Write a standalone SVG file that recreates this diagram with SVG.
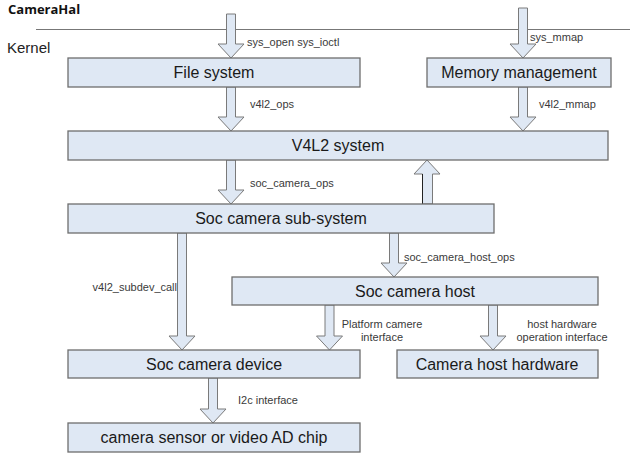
<svg xmlns="http://www.w3.org/2000/svg" width="630" height="460" viewBox="0 0 630 460">
<style>
.box{fill:#dfe8f4;stroke:#6e6e6e;stroke-width:1.3}
.arr{fill:#dfe8f4;stroke:#7a7a7a;stroke-width:1}
.t{font-family:"Liberation Sans",Arial,sans-serif;font-size:16px;fill:#1a1a1a;text-anchor:middle}
.l{font-family:"Liberation Sans",Arial,sans-serif;font-size:11px;fill:#3a3a3a}
.c{text-anchor:middle}
</style>
<rect width="630" height="460" fill="#ffffff"/>
<g id="header">
<text x="8" y="14" font-family="'Open Sans',sans-serif" font-weight="bold" font-size="13" fill="#111">CameraHal</text>
<line x1="36" y1="29.5" x2="630" y2="29.5" stroke="#777" stroke-width="1"/>
<text x="7" y="53" font-family="'Liberation Sans',Arial,sans-serif" font-size="15" fill="#222">Kernel</text>
</g>
<g id="connectors">
<polygon class="arr" points="226.5,14 235.5,14 235.5,44 244,44 231,58 218,44 226.5,44"/>
<polygon class="arr" points="518.5,8 527.5,8 527.5,44 536,44 523,58 510,44 518.5,44"/>
<polygon class="arr" points="226.5,87 235.5,87 235.5,117 244,117 231,131 218,117 226.5,117"/>
<polygon class="arr" points="518.5,87 527.5,87 527.5,117 536,117 523,131 510,117 518.5,117"/>
<polygon class="arr" points="226.5,160 235.5,160 235.5,190 244,190 231,204 218,190 226.5,190"/>
<polygon class="arr" points="422.5,204 432.5,204 432.5,174 440,174 427,160 414,174 422.5,174"/>
<line x1="422.5" y1="174" x2="422.5" y2="204" stroke="#222" stroke-width="1"/>
<polygon class="arr" points="177.5,233 186.5,233 186.5,336 195,336 182,350 169,336 177.5,336"/>
<polygon class="arr" points="389.5,233 398.5,233 398.5,263 407,263 394,277 381,263 389.5,263"/>
<polygon class="arr" points="325,305 334,305 334,336 342.5,336 329.5,350 316.5,336 325,336"/>
<polygon class="arr" points="488.5,305 497.5,305 497.5,336 506,336 493,350 480,336 488.5,336"/>
<polygon class="arr" points="208.5,378 217.5,378 217.5,409 226,409 213,423 200,409 208.5,409"/>
<text class="l" x="247" y="46">sys_open sys_ioctl</text>
<text class="l" x="530" y="41">sys_mmap</text>
<text class="l" x="250" y="108">v4l2_ops</text>
<text class="l" x="539" y="108">v4l2_mmap</text>
<text class="l" x="250" y="187">soc_camera_ops</text>
<text class="l" x="177" y="291" text-anchor="end">v4l2_subdev_call</text>
<text class="l" x="404" y="261">soc_camera_host_ops</text>
<text class="l c" x="382" y="328">Platform camere</text>
<text class="l c" x="382" y="341">interface</text>
<text class="l c" x="562" y="328">host hardware</text>
<text class="l c" x="562" y="341">operation interface</text>
<text class="l" x="238" y="404">I2c interface</text>
</g>
<g id="file-system"><rect class="box" x="68" y="58" width="292" height="29"/><text class="t" x="214" y="78">File system</text></g>
<g id="memory-management"><rect class="box" x="427" y="58" width="184" height="29"/><text class="t" x="519" y="78">Memory management</text></g>
<g id="v4l2-system"><rect class="box" x="68" y="131" width="540" height="29"/><text class="t" x="338" y="151">V4L2 system</text></g>
<g id="soc-camera-sub-system"><rect class="box" x="68" y="204" width="426" height="29"/><text class="t" x="281" y="224">Soc camera sub-system</text></g>
<g id="soc-camera-host"><rect class="box" x="232" y="277" width="366" height="28"/><text class="t" x="415" y="297">Soc camera host</text></g>
<g id="soc-camera-device"><rect class="box" x="68" y="350" width="292" height="28"/><text class="t" x="214" y="370">Soc camera device</text></g>
<g id="camera-host-hardware"><rect class="box" x="397" y="350" width="201" height="28"/><text class="t" x="497" y="370">Camera host hardware</text></g>
<g id="camera-sensor"><rect class="box" x="68" y="423" width="292" height="29"/><text class="t" x="214" y="443">camera sensor or video AD chip</text></g>
</svg>
